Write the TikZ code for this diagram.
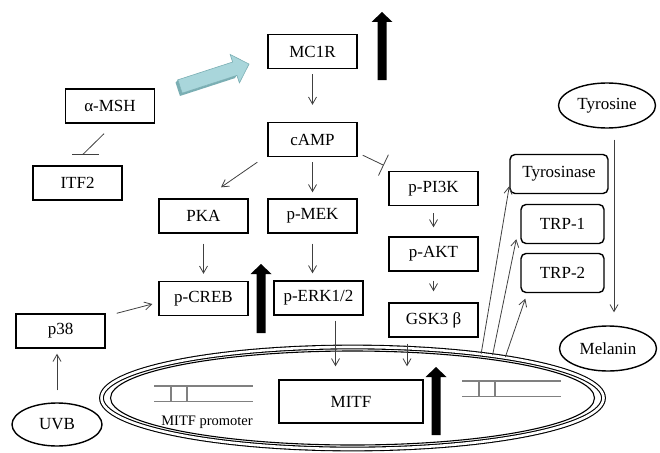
\documentclass[tikz,border=0pt]{standalone}
\usepackage{fontspec}
\setmainfont{Liberation Serif}
\usetikzlibrary{arrows.meta,calc,shapes.geometric}

\definecolor{cyanlight}{HTML}{A9D6DB}
\definecolor{cyandark}{HTML}{7AAEB3}

\begin{document}
\begin{tikzpicture}[x=1pt, y=-1pt,
    box/.style={draw, line width=1.4pt, minimum width=89pt, minimum height=34pt, inner sep=0pt, font=\fontsize{17}{20}\selectfont},
    rbox/.style={box, rounded corners=5pt, minimum height=39pt},
    oval/.style={box, ellipse, minimum width=97pt, minimum height=45pt},
    arr/.style={draw=black!75, line width=0.8pt, -{Straight Barb[length=7pt,width=8pt]}},
    inh/.style={draw=black!75, line width=0.8pt},
    dna/.style={draw=black!50, line width=1.1pt}]
    \useasboundingbox (0,0) rectangle (660,452);

    \node[draw, ellipse, line width=1.1pt, double, double distance=2.6pt, minimum width=502pt, minimum height=102pt] (nuc) at (352.5,398) {};
    \draw[line width=1.1pt] (nuc.center) ellipse [x radius=242pt, y radius=47pt];

    \node[box] (mc1r) at (312.5,51.5) {MC1R};
    \node[box] (msh) at (110,106) {α-MSH};
    \node[box] (itf) at (77.5,183) {ITF2};
    \node[box] (camp) at (312.5,139.5) {cAMP};
    \node[box] (pka) at (203.5,216) {PKA};
    \node[box] (pmek) at (312.5,216) {p-MEK};
    \node[box] (pi3k) at (433.5,188.5) {p-PI3K};
    \node[box] (akt) at (433.5,254) {p-AKT};
    \node[box] (gsk) at (433.5,320) {GSK3 β};
    \node[box] (creb) at (203.5,298.5) {p-CREB};
    \node[box] (perk) at (318.5,298) {p-ERK1/2};
    \node[box] (p38) at (60.5,331) {p38};
    \node[box, minimum width=144pt, minimum height=43pt] (mitf) at (351,401.5) {MITF};
    \node[rbox, minimum width=98pt] (tyrase) at (559,174) {Tyrosinase};
    \node[rbox, minimum width=83pt] (trp1) at (562.5,224) {TRP-1};
    \node[rbox, minimum width=83pt] (trp2) at (562.5,273) {TRP-2};
    \node[oval] (tyr) at (607,105.5) {Tyrosine};
    \node[oval] (mel) at (608,348.5) {Melanin};
    \node[oval, minimum width=90pt, minimum height=43pt] (uvb) at (57,424.5) {UVB};
    \node[font=\fontsize{14.5}{17}\selectfont] (prom) at (207,422) {MITF promoter};

    \foreach \xa/\ya in {154/386, 462/381} {
        \draw[dna] (\xa,\ya) -- ++(99,0) (\xa,\ya+15.5) -- ++(99,0);
        \draw[dna] (\xa+17,\ya) -- ++(0,15.5) (\xa+33,\ya) -- ++(0,15.5);
    }

    \begin{scope}[shift={(180,86.5)}, rotate=18]
        \fill[cyandark] (0,-7) -- (-3,-5) -- (-3,9) -- (54.6,9) -- (57.6,7) -- (0,7) -- cycle;
        \draw[cyandark, fill=cyanlight, line width=0.6pt] (0,-7) -- (57.6,-7) -- (57.6,-15) -- (72.6,0) -- (57.6,15) -- (57.6,7) -- (0,7) -- cycle;
    \end{scope}

    \foreach \x/\yb/\yt in {382/80/12, 261/333/264, 436/435/367} {
        \fill (\x-4.5,\yb) -- (\x-4.5,\yt+10) -- (\x-10.5,\yt+10) -- (\x,\yt) -- (\x+10.5,\yt+10) -- (\x+4.5,\yt+10) -- (\x+4.5,\yb) -- cycle;
    }

    \draw[arr, shorten <=5pt, shorten >=17pt] (mc1r) -- (camp);
    \draw[arr, shorten <=5pt, shorten >=6pt] (camp) -- (pmek);
    \draw[arr] ($(camp.south west)+(-10,5)$) -- ($(pka.north)+(17.5,-11)$);
    \draw[arr, shorten <=10pt, shorten >=7pt] (pka) -- (creb);
    \draw[arr, shorten <=10pt, shorten >=7pt] (pmek.south) -- (pmek.south |- perk.north);
    \draw[arr, shorten <=7pt, shorten >=9pt] (pi3k) -- (akt);
    \draw[arr, shorten <=9pt, shorten >=11pt] (akt) -- (gsk);
    \coordinate (erkout) at ($(perk.south)+(17,0)$);
    \coordinate (gskout) at ($(gsk.south)+(-26.5,0)$);
    \draw[arr, shorten <=5pt, shorten >=13pt] (erkout) -- (erkout |- mitf.north);
    \draw[arr, shorten <=6pt, shorten >=13pt] (gskout) -- (gskout |- mitf.north);
    \draw[arr] ($(p38.north east)+(11,0)$) -- ($(creb.west)+(-6,5.5)$);
    \draw[arr, shorten <=12pt, shorten >=5pt] (uvb.north) -- (uvb.north |- p38.south);
    \coordinate (tyrout) at ($(tyr.south)+(7,0)$);
    \draw[arr, shorten <=11pt, shorten >=13pt] (tyrout) -- (tyrout |- mel.north);
    \draw[arr] (nuc.19) -- ($(tyrase.south west)+(0,-8)$);
    \draw[arr] (nuc.17) -- ($(trp1.south west)+(-4,-5)$);
    \draw[arr] (nuc.15) -- ($(trp2.south west)+(5,5.5)$);

    \draw[inh, -{Bar[width=23pt]}] ($(camp.south east)+(5,-2)$) -- ($(pi3k.north west)+(-4.5,-5.5)$);
    \coordinate (mshbar) at ($(itf.north)+(5.5,-11)$);
    \draw[inh] ($(msh.south)+(-6,10)$) -- (mshbar);
    \draw[inh] ($(mshbar)+(-11,0)$) -- ($(mshbar)+(16,0)$);
\end{tikzpicture}
\end{document}
